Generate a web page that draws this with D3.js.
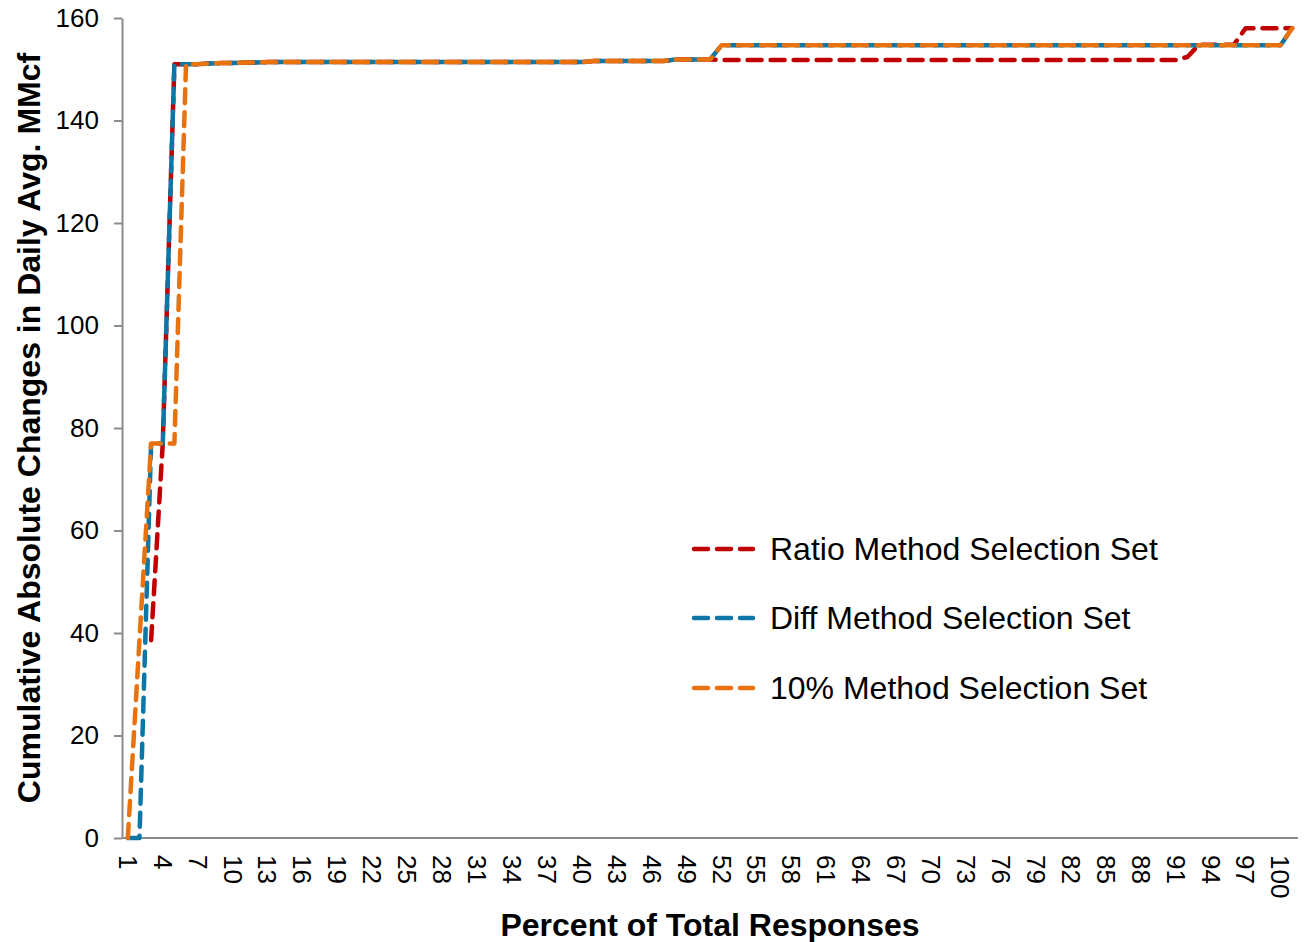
<!DOCTYPE html>
<html>
<head>
<meta charset="utf-8">
<script src="https://cdn.jsdelivr.net/npm/d3@7"></script>
<style>
  html, body { margin: 0; padding: 0; background: #fff; }
  svg { display: block; font-family: "Liberation Sans", Arial, sans-serif; }
</style>
</head>
<body>
<svg id="chart" width="1304" height="942"></svg>
<script>
// ---- Data ----
const categories = d3.range(1, 102); // 1..101
const xTickLabels = categories.filter(c => (c - 1) % 3 === 0); // 1,4,...,100
const yTicks = [0, 20, 40, 60, 80, 100, 120, 140, 160];

const plateauEarly = [151.0, 151.0, 151.1, 151.2, 151.2, 151.3, 151.3, 151.4, 151.4, 151.4]; // cats 6..15
function fill(v, n) { return Array(n).fill(v); }

const diffValues = [0, 0, 77, 77, 151.0]
  .concat(plateauEarly)              // 6..15
  .concat(fill(151.4, 25))           // 16..40
  .concat(fill(151.6, 7))            // 41..47
  .concat(fill(151.9, 4))            // 48..51
  .concat(fill(154.7, 49))           // 52..100
  .concat([158.0]);                  // 101

const tenPctValues = [0, 38.6, 77, 77, 77]
  .concat(plateauEarly)
  .concat(fill(151.4, 25))
  .concat(fill(151.6, 7))
  .concat(fill(151.9, 4))
  .concat(fill(154.7, 49))
  .concat([158.0]);

const ratioValues = [null, null, 38.6, 77, 151.0]
  .concat(plateauEarly)
  .concat(fill(151.4, 25))
  .concat(fill(151.6, 7))
  .concat(fill(151.9, 4))
  .concat(fill(151.8, 40))           // 52..91
  .concat([152.4])                   // 92
  .concat(fill(154.8, 4))            // 93..96
  .concat(fill(158.0, 5));           // 97..101

const seriesNames = ["Ratio Method Selection Set", "Diff Method Selection Set", "10% Method Selection Set"];
const seriesValues = [ratioValues, diffValues, tenPctValues];
const seriesColors = ["#C00000", "#0A77A6", "#E8720E"];

const xTitle = "Percent of Total Responses";
const yTitle = "Cumulative Absolute Changes in Daily Avg. MMcf";

// ---- Layout ----
const svg = d3.select("#chart");
const plot = { left: 122, right: 1298, top: 18, bottom: 838 };

const x = d3.scaleBand().domain(categories).range([plot.left, plot.right]).padding(0);
const xc = c => x(c) + x.bandwidth() / 2;
const y = d3.scaleLinear().domain([0, 160]).range([plot.bottom, plot.top]);

// Y axis
const yAxis = d3.axisLeft(y).tickValues(yTicks).tickSize(8).tickSizeOuter(0).tickPadding(15);
const gy = svg.append("g").attr("transform", `translate(${plot.left},0)`).call(yAxis);
gy.select(".domain").attr("stroke", "#8c8c8c").attr("stroke-width", 2);
gy.selectAll(".tick line").attr("stroke", "#8c8c8c").attr("stroke-width", 2);
gy.selectAll(".tick text").attr("font-size", 26).attr("fill", "#000")
  .attr("font-family", "'Liberation Sans', Arial, sans-serif");

// X axis line
svg.append("line")
  .attr("x1", plot.left).attr("x2", plot.right)
  .attr("y1", y(0)).attr("y2", y(0))
  .attr("stroke", "#8c8c8c").attr("stroke-width", 2);

// X tick labels (rotated 90deg)
svg.append("g").selectAll("text").data(xTickLabels).join("text")
  .attr("transform", d => `translate(${xc(d)},855) rotate(90)`)
  .attr("text-anchor", "start")
  .attr("dy", "0.35em")
  .attr("font-size", 26)
  .attr("fill", "#000")
  .text(d => d);

// Lines
const line = d3.line()
  .defined(d => d.v !== null)
  .x(d => xc(d.c))
  .y(d => y(d.v));

seriesValues.forEach((vals, i) => {
  const data = categories.map((c, j) => ({ c, v: vals[j] }));
  svg.append("path")
    .datum(data)
    .attr("d", line)
    .attr("fill", "none")
    .attr("stroke", seriesColors[i])
    .attr("stroke-width", 4.5)
    .attr("stroke-dasharray", "14 9")
    .attr("stroke-linecap", "round")
    .attr("stroke-linejoin", "round");
});

// Legend
const legendY = [549, 618, 688];
const lg = svg.append("g");
seriesNames.forEach((name, i) => {
  lg.append("line")
    .attr("x1", 694).attr("x2", 753)
    .attr("y1", legendY[i]).attr("y2", legendY[i])
    .attr("stroke", seriesColors[i])
    .attr("stroke-width", 4.5)
    .attr("stroke-dasharray", "14 9")
    .attr("stroke-linecap", "round");
  lg.append("text")
    .attr("x", 770).attr("y", legendY[i])
    .attr("dy", "0.35em")
    .attr("font-size", 32)
    .attr("fill", "#000")
    .text(name);
});

// Axis titles
svg.append("text")
  .attr("x", (plot.left + plot.right) / 2).attr("y", 936)
  .attr("text-anchor", "middle")
  .attr("font-size", 32).attr("font-weight", "bold").attr("fill", "#000")
  .text(xTitle);

svg.append("text")
  .attr("transform", `translate(40,${(plot.top + plot.bottom) / 2}) rotate(-90)`)
  .attr("text-anchor", "middle")
  .attr("font-size", 32).attr("font-weight", "bold").attr("fill", "#000")
  .text(yTitle);
</script>
</body>
</html>
